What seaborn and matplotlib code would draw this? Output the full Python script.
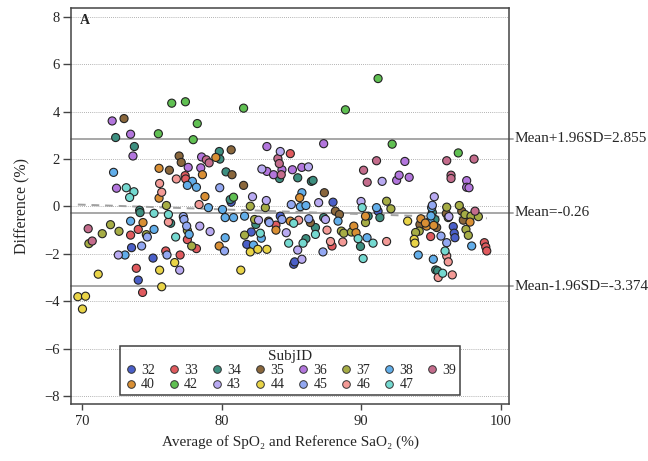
import pandas as pd
import numpy as np
import seaborn as sns
import matplotlib.pyplot as plt

sns.set_theme(style="white")
plt.rcParams['font.family'] = ['Liberation Serif', 'DejaVu Serif']

# ---------------------------------------------------------
# Bland-Altman data, (average, difference) per subject
# ---------------------------------------------------------
s32 = [(73.54, -1.74), (75.08, -2.18), (74.02, -3.11), (80.68, 0.18), (87.98, 0.18), (84.2, -0.41),
       (82.12, -1.08), (81.8, -1.6), (85.16, -2.44), (85.23, -2.34), (91.21, -0.2), (96.6, -0.85),
       (96.67, -1.13), (96.72, -1.32)]
s33 = [(77.38, 1.30), (77.42, 1.16), (73.47, -1.21), (74.02, -0.97), (77.54, -1.4), (78.19, -1.78),
       (75.99, -1.88), (77.02, -2.05), (73.88, -2.61), (74.33, -3.63), (84.92, 2.23), (83.89, -0.79),
       (87.91, -1.67), (94.98, -1.27), (98.83, -1.53), (98.93, -1.71), (99.0, -1.88)]
s34 = [(72.4, 2.91), (73.74, 2.53), (79.83, 2.32), (79.87, 2.0), (74.12, -0.16), (74.15, -0.26),
       (76.34, -0.71), (84.15, 1.18), (85.45, 1.21), (86.43, 1.06), (86.55, 1.1), (80.31, 1.46),
       (80.61, 0.29), (82.45, -0.76), (86.72, -0.89), (87.31, -0.47), (86.04, -1.36), (89.95, -1.69),
       (90.5, -0.41), (91.34, -0.47), (95.29, -0.55), (95.34, -2.68), (95.48, -2.72), (95.1, -0.25)]
s35 = [(73.0, 3.71), (76.95, 2.13), (77.1, 1.86), (76.25, 1.53), (80.68, 2.39), (80.74, 1.34),
       (81.57, 0.89), (87.36, 0.58), (83.36, -0.62), (86.36, -0.68), (88.15, -0.2), (88.44, -0.34),
       (97.21, -0.2), (94.21, -0.76), (95.41, -0.89), (97.32, -0.58), (94.9, -0.75), (96.1, -0.3)]
s36 = [(72.15, 3.61), (73.47, 3.05), (73.64, 2.13), (77.6, 1.65), (78.56, 2.09), (78.5, 1.63),
       (72.46, 0.77), (83.24, 2.53), (87.31, 2.65), (83.24, 1.48), (83.72, 1.34), (84.32, 1.55),
       (85.07, 1.55), (85.74, 1.65), (93.13, 1.9), (92.54, 1.1), (92.72, 1.32), (93.44, 1.23),
       (97.56, 1.09), (97.56, 0.81), (97.73, 0.79)]
s37 = [(76.04, 0.04), (72.03, -0.77), (71.44, -1.15), (72.64, -1.05), (74.6, -1.19), (77.54, -1.01),
       (77.85, -1.67), (70.48, -1.57), (82.05, 0.01), (83.13, -0.05), (82.36, -0.55), (88.58, -1.04),
       (88.75, -1.13), (89.3, -1.08), (90.31, -0.68), (81.64, -1.21), (91.82, 0.22), (92.13, -0.1),
       (96.13, -0.03), (97.03, 0.04), (94.16, -1.04), (96.24, -0.47), (97.44, -0.34), (97.51, -0.97),
       (97.68, -1.22), (97.87, -0.41), (98.4, -0.43), (93.9, -1.1)]
s38 = [(72.25, 1.44), (77.9, 1.06), (77.54, 0.89), (78.19, 0.81), (79.05, -0.05), (73.47, -0.62),
       (75.15, -0.97), (77.67, -1.18), (73.07, -2.05), (85.75, 0.58), (85.64, -0.01), (86.04, 0.04),
       (80.06, -0.13), (80.25, -0.47), (80.85, -0.47), (81.64, -0.41), (88.34, -0.62), (90.42, -1.32),
       (80.25, -1.32), (82.84, -1.34), (82.28, -1.63), (91.1, -0.05), (95.05, -0.05), (94.93, -0.62),
       (94.09, -2.05), (97.92, -1.67), (95.17, -2.23), (95.0, -0.4)]
s39 = [(78.9, 1.97), (79.1, 1.84), (70.43, -0.94), (70.72, -1.46), (84.03, 2.02), (84.13, 1.81),
       (84.27, 1.34), (90.17, 1.53), (90.43, 1.02), (91.1, 1.93), (96.13, 1.93), (98.09, 2.0),
       (96.44, 1.32), (96.44, 1.18), (98.16, -0.2)]
s40 = [(79.58, 2.07), (75.51, 1.61), (78.62, 1.34), (75.51, 0.35), (78.8, 0.42), (74.36, -0.68),
       (79.82, -1.67), (85.59, 0.37), (83.89, -1.0), (84.92, -0.62), (89.47, -0.83), (89.63, -1.11),
       (90.31, -0.41), (94.28, -0.52), (94.69, -0.83), (97.8, -0.66), (94.6, -0.7), (95.2, -0.8)]
s42 = [(76.42, 4.36), (77.4, 4.42), (78.25, 3.5), (75.46, 3.07), (77.96, 2.82), (81.57, 4.15),
       (88.87, 4.08), (80.85, 0.39), (91.21, 5.4), (92.22, 2.63), (96.96, 2.26)]
s43 = [(78.43, -0.83), (79.17, -1.06), (72.59, -2.05), (76.99, -2.69), (84.2, 2.32), (82.88, 1.58),
       (86.22, 1.67), (82.21, 0.41), (83.2, 0.25), (86.95, 0.16), (89.99, 0.21), (82.64, -0.58),
       (87.44, -0.55), (84.63, -1.11), (85.45, -1.84), (85.75, -2.23), (91.5, 1.06), (95.24, 0.41),
       (96.29, -0.43)]
s44 = [(71.15, -2.86), (76.63, -2.37), (75.55, -2.69), (75.7, -3.39), (69.69, -3.81), (70.24, -3.79),
       (70.02, -4.33), (82.05, -1.92), (82.59, -1.81), (83.24, -1.81), (81.37, -2.69), (93.33, -0.62),
       (93.8, -1.39), (93.85, -1.55)]
s45 = [(79.86, 0.79), (77.25, -0.43), (77.3, -0.55), (74.67, -1.29), (77.49, -0.83), (74.26, -1.67),
       (76.08, -2.05), (84.99, 0.08), (83.41, -0.68), (84.32, -0.55), (86.24, -0.52), (87.26, -1.92),
       (80.2, -1.88), (95.72, -1.25), (96.13, -1.53), (95.1, 0.05)]
s46 = [(76.75, 1.16), (75.55, 0.97), (75.7, 0.6), (78.38, 0.08), (76.18, -0.66), (85.52, -0.58),
       (87.55, -1.0), (87.8, -1.48), (88.68, -1.5), (91.82, -1.48), (96.13, -2.09), (96.24, -2.34),
       (95.52, -3.0), (96.53, -2.89)]
s47 = [(73.16, 0.79), (73.71, 0.62), (73.4, 0.38), (75.15, -0.29), (76.18, -0.34), (76.7, -1.29),
       (90.07, -0.05), (85.16, -0.71), (86.72, -1.18), (82.77, -1.13), (84.8, -1.55), (85.83, -1.55),
       (89.78, -1.36), (90.14, -2.2), (90.85, -1.55), (96.01, -1.88), (95.84, -2.82)]

subjects = [32, 33, 34, 35, 36, 37, 38, 39, 40, 42, 43, 44, 45, 46, 47]
subject_points = [s32, s33, s34, s35, s36, s37, s38, s39, s40, s42, s43, s44, s45, s46, s47]
colors = ['#4a5fc8', '#e05a5e', '#3d8f80', '#8a673c', '#b376dd', '#a6ad45', '#62aeea', '#c46c8c',
          '#d98f34', '#60c052', '#b9aaf2', '#e9d447', '#93a8f2', '#f39a96', '#74d9d0']

mean_diff = -0.26
upper_loa = 2.855
lower_loa = -3.374
fit_intercept = 1.46
fit_slope = -0.0198

rows = []
for sid, pts in zip(subjects, subject_points):
    for avg, diff in pts:
        rows.append({'SubjID': sid, 'avg': avg, 'diff': diff})
df = pd.DataFrame(rows)

fig = plt.figure(figsize=(6.48, 4.61), dpi=100)
ax = fig.add_axes([0.1096, 0.1237, 0.676, 0.859])

# dotted grid at the y ticks
for yv in range(-8, 9, 2):
    ax.axhline(yv, color='#9a9a9a', linestyle=(0, (1, 1.5)), linewidth=0.6, zorder=0)

for val in [upper_loa, mean_diff, lower_loa]:
    ax.axhline(val, xmin=0, xmax=1.008, color='#a0a0a0', linewidth=1.3, zorder=1, clip_on=False)

xfit = np.array([df['avg'].min(), df['avg'].max()])
ax.plot(xfit, fit_intercept + fit_slope * xfit, color='#a0a0a0', linestyle=(0, (4, 3)),
        linewidth=1.4, zorder=1)

sns.scatterplot(data=df, x='avg', y='diff', hue='SubjID', palette=dict(zip(subjects, colors)),
                s=34, edgecolor='#222222', linewidth=0.8, ax=ax, zorder=3, legend=False)

ax.set_xlim(69.2, 100.6)
ax.set_ylim(-8.34, 8.38)
ax.set_xticks([70, 80, 90, 100])
ax.set_yticks(range(-8, 9, 2))
ax.tick_params(axis='y', direction='out', length=6, width=1, color='#444444',
               labelsize=10.5, pad=2, left=True)
ax.tick_params(axis='x', direction='out', length=4, width=1, color='#444444',
               labelsize=10.5, pad=4, bottom=True)
for sp in ax.spines.values():
    sp.set_color('#444444')
    sp.set_linewidth(1.1)

ax.set_xlabel('Average of SpO\u2082 and Reference SaO\u2082 (%)', fontsize=11, labelpad=5)
ax.set_ylabel('Difference (%)', fontsize=11.5, labelpad=10)
ax.text(0.02, 0.985, 'A', transform=ax.transAxes, fontsize=10, fontweight='bold', va='top')

tr = ax.get_yaxis_transform()
ax.text(1.012, upper_loa, 'Mean+1.96SD=2.855', transform=tr, fontsize=11, va='center')
ax.text(1.012, mean_diff, 'Mean=-0.26', transform=tr, fontsize=11, va='center')
ax.text(1.012, lower_loa, 'Mean-1.96SD=-3.374', transform=tr, fontsize=11, va='center')

# legend filled column by column, so reorder to read row by row
ncol = 8
order = []
for c in range(ncol):
    for r in range(2):
        i = r * ncol + c
        if i < len(subjects):
            order.append(i)
handles = [plt.Line2D([], [], marker='o', linestyle='', markersize=5.5, markerfacecolor=colors[i],
                      markeredgecolor='#333333', markeredgewidth=0.7) for i in order]
labels = [str(subjects[i]) for i in order]
leg = ax.legend(handles, labels, title='SubjID', ncol=ncol, loc='lower center',
                bbox_to_anchor=(0.5, 0.023), borderaxespad=0, fontsize=10, title_fontsize=11,
                frameon=True, fancybox=False, edgecolor='#111111', handletextpad=0.25,
                columnspacing=0.85, borderpad=0.25, labelspacing=0.1, handlelength=1.0)
leg.get_frame().set_linewidth(1.1)
leg.get_title().set_fontfamily(['Liberation Serif'])
leg.set_zorder(5)

fig.savefig('out.png', dpi=100)
